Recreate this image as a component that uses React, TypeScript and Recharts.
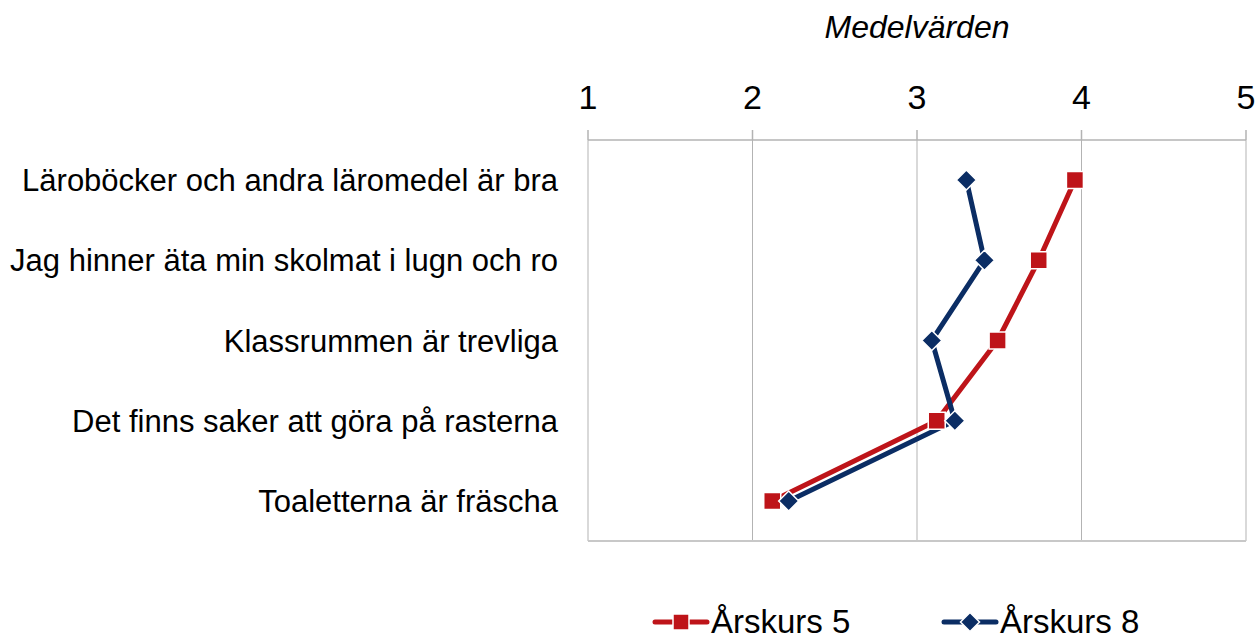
import React from "react";
import { CartesianGrid, Legend, Line, LineChart, XAxis, YAxis } from "recharts";

const categories = [
  "Läroböcker och andra läromedel är bra",
  "Jag hinner äta min skolmat i lugn och ro",
  "Klassrummen är trevliga",
  "Det finns saker att göra på rasterna",
  "Toaletterna är fräscha",
];
const arskurs5 = [3.96, 3.74, 3.49, 3.12, 2.12];
const arskurs8 = [3.3, 3.41, 3.09, 3.23, 2.22];
const xTicks = [1, 2, 3, 4, 5];

const RED = "#be1419";
const BLUE = "#0b2d64";
const FONT = "'Liberation Sans', Arial, sans-serif";

const data = categories.map((name, i) => ({ name, a5: arskurs5[i], a8: arskurs8[i] }));

function Square(props: any) {
  const { cx, cy } = props;
  if (cx == null || cy == null) return null;
  return <rect x={cx - 8.5} y={cy - 8.5} width={17} height={17} fill={RED} stroke="#fff" strokeWidth={1.5} />;
}

function Diamond(props: any) {
  const { cx, cy } = props;
  if (cx == null || cy == null) return null;
  const r = 10;
  return (
    <path
      d={`M${cx},${cy - r}L${cx + r},${cy}L${cx},${cy + r}L${cx - r},${cy}Z`}
      fill={BLUE}
      stroke="#fff"
      strokeWidth={1.5}
    />
  );
}

function LegendContent() {
  const item = (color: string, label: string, marker: React.ReactNode) => (
    <div style={{ display: "flex", alignItems: "center" }}>
      <svg width={58} height={20}>
        <line x1={3} y1={10} x2={55} y2={10} stroke={color} strokeWidth={5} strokeLinecap="round" />
        {marker}
      </svg>
      <span style={{ fontSize: 33, marginLeft: 1, lineHeight: "36px" }}>{label}</span>
    </div>
  );
  return (
    <div style={{ position: "relative", fontFamily: FONT, color: "#000", height: 36 }}>
      <div style={{ position: "absolute", left: 652, top: 0 }}>
        {item(RED, "Årskurs 5", <rect x={21} y={2} width={16} height={16} fill={RED} stroke="#fff" strokeWidth={1.5} />)}
      </div>
      <div style={{ position: "absolute", left: 941, top: 0 }}>
        {item(BLUE, "Årskurs 8", <path d="M29,0.5L38.5,10L29,19.5L19.5,10Z" fill={BLUE} stroke="#fff" strokeWidth={1.5} />)}
      </div>
    </div>
  );
}

export default function App() {
  return (
    <div style={{ position: "absolute", left: 0, top: 0, width: 1259, height: 638, background: "#fff", fontFamily: FONT }}>
      <div
        style={{
          position: "absolute",
          left: 588,
          width: 658,
          top: 8,
          textAlign: "center",
          fontSize: 32,
          lineHeight: "38px",
          fontStyle: "italic",
          color: "#000",
        }}
      >
        Medelvärden
      </div>
      <LineChart
        width={1259}
        height={638}
        data={data}
        layout="vertical"
        margin={{ top: 60, right: 13, left: 0, bottom: 60 }}
      >
        <CartesianGrid vertical horizontal={false} stroke="#b3b3b3" strokeWidth={1} />
        <XAxis
          type="number"
          orientation="top"
          domain={[1, 5]}
          ticks={xTicks}
          height={80}
          tickSize={10}
          tickMargin={21}
          stroke="#b3b3b3"
          strokeWidth={1.5}
          tick={{ fill: "#000", fontSize: 34, fontFamily: FONT }}
        />
        <XAxis
          xAxisId="bottom"
          type="number"
          orientation="bottom"
          domain={[1, 5]}
          ticks={xTicks}
          height={1}
          tick={false}
          tickLine={false}
          axisLine={{ stroke: "#c8c8c8", strokeWidth: 2 }}
        />
        <YAxis
          type="category"
          dataKey="name"
          width={588}
          axisLine={false}
          tickLine={false}
          tickSize={6}
          tickMargin={24}
          interval={0}
          padding={{ top: 40, bottom: 40 }}
          tick={{ fill: "#000", fontSize: 31, fontFamily: FONT }}
        />
        <Legend
          verticalAlign="bottom"
          content={<LegendContent />}
          wrapperStyle={{ left: 0, top: 604, width: 1259, height: 36 }}
        />
        <Line
          dataKey="a5"
          stroke={RED}
          strokeWidth={5}
          dot={<Square />}
          activeDot={false}
          isAnimationActive={false}
        />
        <Line
          dataKey="a8"
          stroke={BLUE}
          strokeWidth={5}
          dot={<Diamond />}
          activeDot={false}
          isAnimationActive={false}
        />
      </LineChart>
    </div>
  );
}
